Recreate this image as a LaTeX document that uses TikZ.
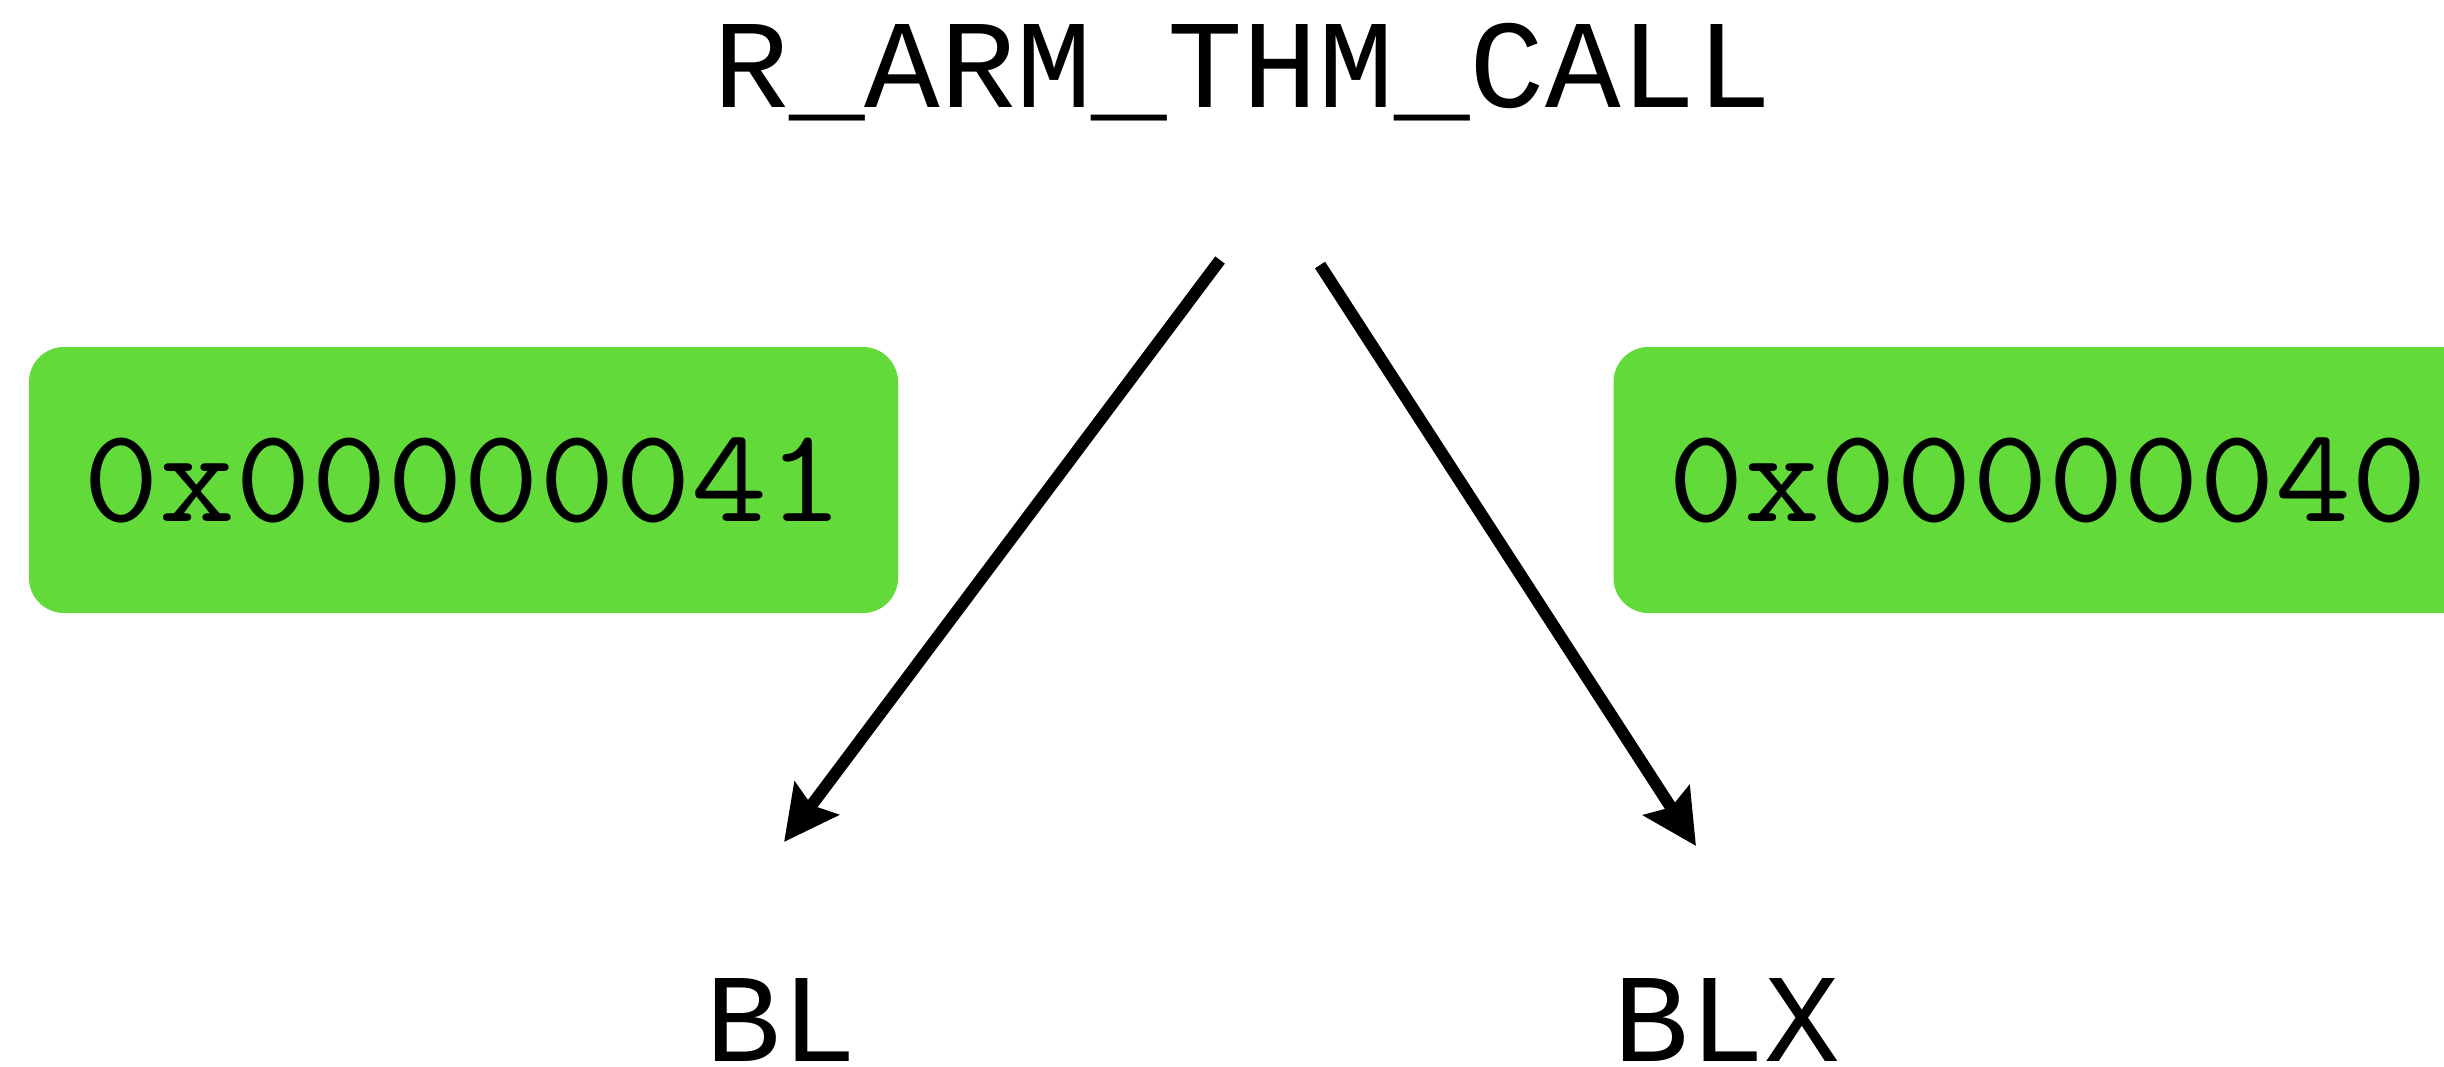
\documentclass[tikz,border=0pt]{standalone}
\usepackage{fontspec}
\usetikzlibrary{arrows.meta}
\newfontfamily\labelfont{Liberation Mono}
\newfontfamily\hexfont{Latin Modern Mono}[FakeStretch=1.1]
\definecolor{boxgreen}{RGB}{98,218,57}
\begin{document}
\begin{tikzpicture}[x=0.5pt,y=-0.5pt,
  lbl/.style={font=\labelfont\fontsize{63}{70}\selectfont, inner sep=0pt, text depth=0pt, anchor=base},
  hexbox/.style={fill=boxgreen, rounded corners=17.5pt, minimum width=434.5pt, minimum height=133pt, inner sep=0pt, font=\hexfont\fontsize{67}{70}\selectfont},
  arr/.style={line width=6pt, -{Stealth[length=27pt,width=27pt,inset=4pt]}}
]
\useasboundingbox (0,0) rectangle (2444,1066);
\clip (0,0) rectangle (2444,1066);
\node[lbl] (title) at (1243,107) {R\_ARM\_THM\_CALL};
\node[lbl] (bl) at (781,1061) {BL};
\node[lbl] (blx) at (1727,1061) {BLX};
\node[hexbox] (hexl) at (463.5,480) {0x00000041};
\node[hexbox] (hexr) at (2048,480) {0x00000040};
\draw[arr] ([shift={(-23,153)}]title.base) -- ([shift={(3,-219)}]bl.base);
\draw[arr] ([shift={(77,158)}]title.base) -- ([shift={(-31,-215)}]blx.base);
\end{tikzpicture}
\end{document}
